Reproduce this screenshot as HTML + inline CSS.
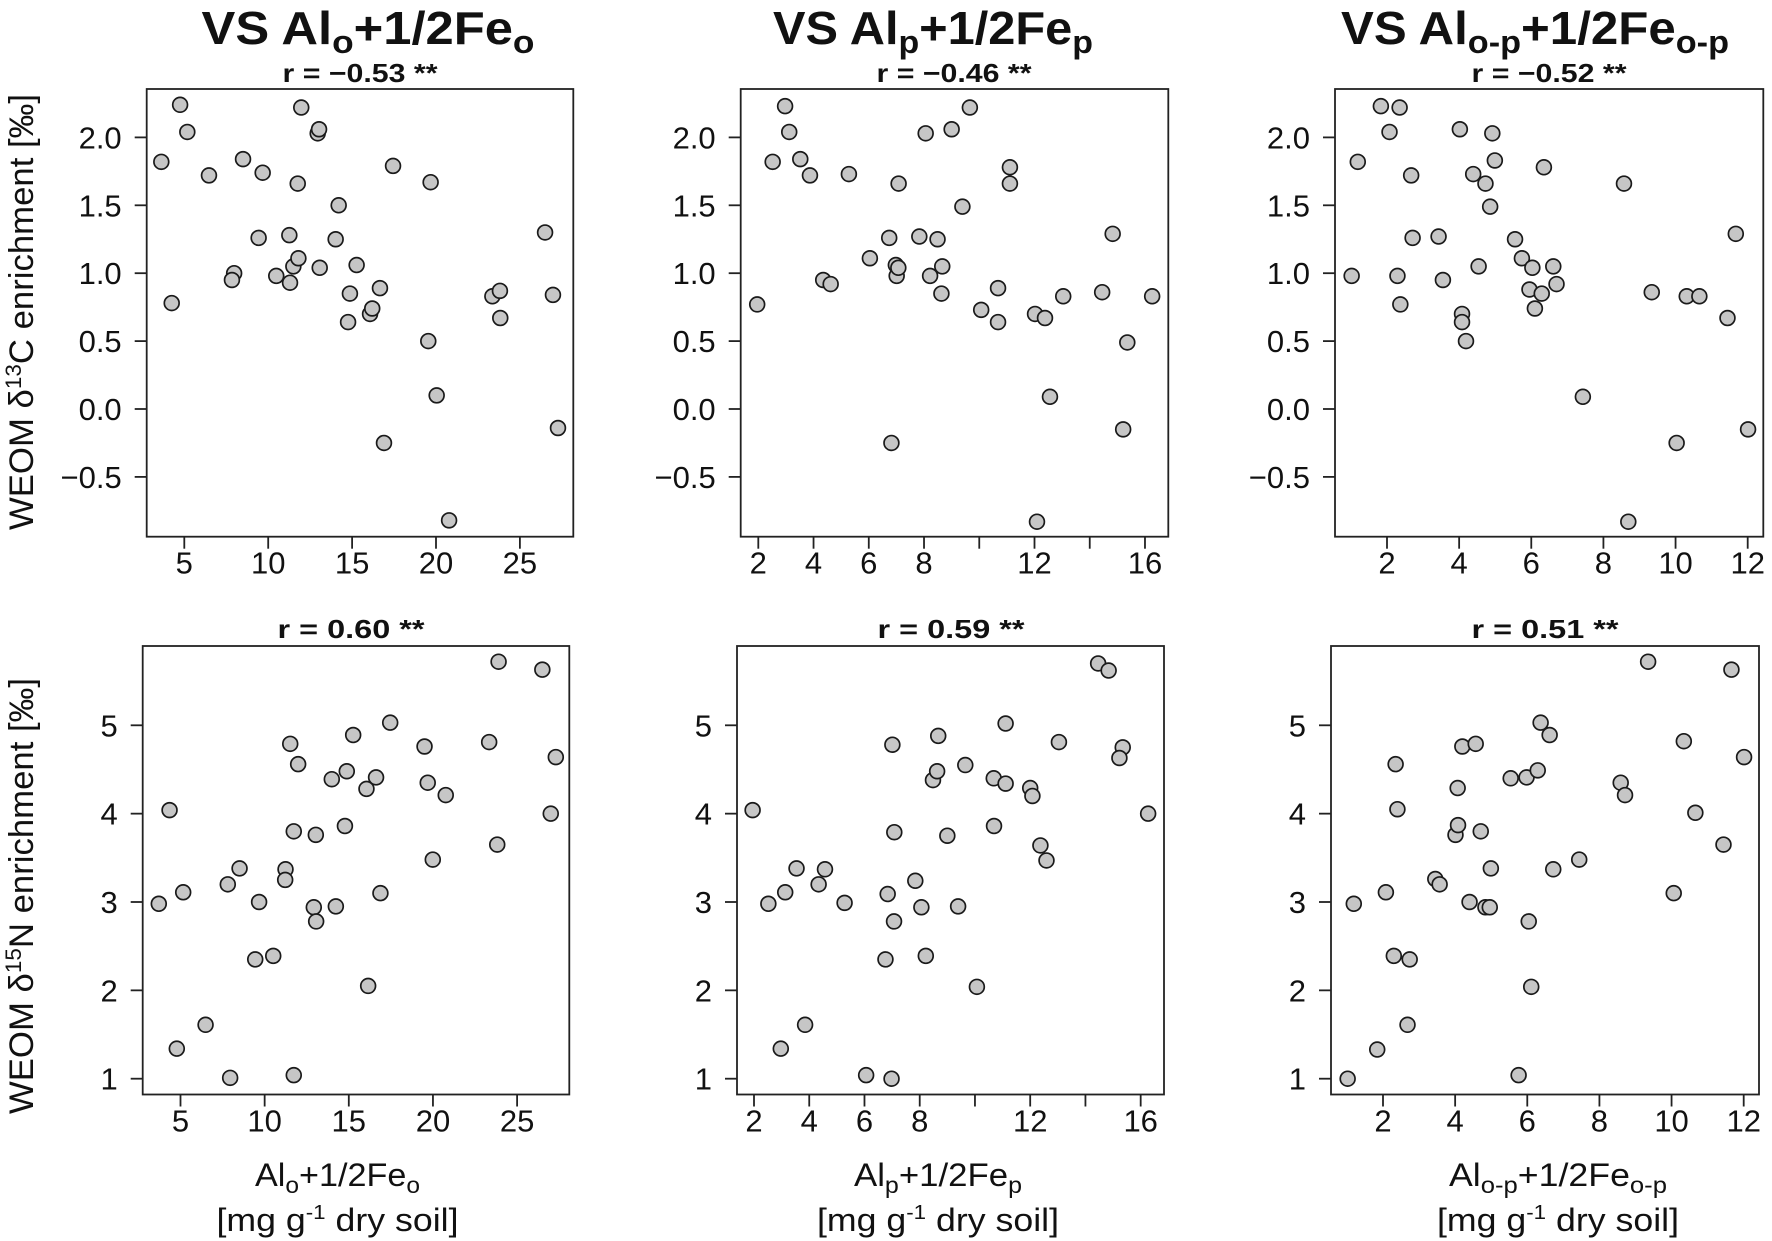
<!DOCTYPE html>
<html><head><meta charset="utf-8"><style>
html,body{margin:0;padding:0;background:#fff}
svg{display:block}
text{font-family:"Liberation Sans",Arial,sans-serif;fill:#111}
</style></head><body>
<svg id="chart" xmlns="http://www.w3.org/2000/svg" width="1772" height="1241" viewBox="0 0 1772 1241"></svg>
<script>
// ---- data ----
const c13_oX = [3.63,4.75,5.18,4.25,6.47,8.5,7.97,7.84,9.67,9.43,10.48,11.26,11.3,11.5,11.8,11.76,11.97,12.95,13.03,13.07,14.2,14.02,14.87,14.76,15.27,16.07,16.2,16.66,16.9,17.44,19.68,19.54,20.04,20.78,23.36,23.81,23.83,26.5,26.97,27.27];
const c13_oY = [1.82,2.24,2.04,0.78,1.72,1.84,1.0,0.95,1.74,1.26,0.98,1.28,0.93,1.05,1.11,1.66,2.22,2.03,2.06,1.04,1.5,1.25,0.85,0.64,1.06,0.70,0.74,0.89,-0.25,1.79,1.67,0.50,0.10,-0.82,0.83,0.87,0.67,1.30,0.84,-0.14];
const c13_pX = [1.96,2.52,2.97,3.12,3.52,3.87,4.35,4.62,5.28,6.04,6.74,6.82,6.98,7.01,7.07,7.08,7.83,8.06,8.22,8.49,8.66,8.63,9.0,9.39,9.66,10.07,10.68,10.68,11.11,11.11,12.02,12.09,12.38,12.56,13.04,14.45,14.83,15.21,15.36,16.26];
const c13_pY = [0.77,1.82,2.23,2.04,1.84,1.72,0.95,0.92,1.73,1.11,1.26,-0.25,1.06,0.98,1.04,1.66,1.27,2.03,0.98,1.25,1.05,0.85,2.06,1.49,2.22,0.73,0.89,0.64,1.78,1.66,0.70,-0.83,0.67,0.09,0.83,0.86,1.29,-0.15,0.49,0.83];
const c13_opX = [1.02,1.19,1.83,2.07,2.35,2.29,2.37,2.67,2.71,3.43,3.55,4.02,4.08,4.08,4.19,4.39,4.54,4.73,4.86,4.92,4.99,5.55,5.74,5.95,6.03,6.10,6.29,6.35,6.61,6.70,7.43,8.57,8.69,9.34,10.31,10.66,11.44,11.67,10.03,12.01];
const c13_opY = [0.98,1.82,2.23,2.04,2.22,0.98,0.77,1.72,1.26,1.27,0.95,2.06,0.70,0.64,0.50,1.73,1.05,1.66,1.49,2.03,1.83,1.25,1.11,0.88,1.04,0.74,0.85,1.78,1.05,0.92,0.09,1.66,-0.83,0.86,0.83,0.83,0.67,1.29,-0.25,-0.15];
const n15_oX = [3.71,4.35,5.16,4.78,6.49,7.81,8.51,7.95,9.67,9.44,10.51,11.24,11.22,11.52,11.73,11.99,11.73,12.92,13.06,13.04,13.99,14.23,14.88,14.77,15.26,16.05,16.15,16.62,16.88,17.46,19.5,19.69,19.99,20.76,23.34,23.82,23.9,26.5,27.3,27.0];
const n15_oY = [2.98,4.04,3.11,1.34,1.61,3.20,3.38,1.01,3.00,2.35,2.39,3.37,3.25,4.79,3.80,4.56,1.04,2.94,2.78,3.76,4.39,2.95,4.48,3.86,4.89,4.28,2.05,4.41,3.10,5.03,4.76,4.35,3.48,4.21,4.81,3.65,5.72,5.63,4.64,4.0];
const n15_pX = [1.95,2.52,2.97,3.13,3.54,3.85,4.34,4.57,5.28,6.06,6.76,6.84,6.98,7.01,7.07,7.08,7.84,8.06,8.22,8.48,8.63,8.67,9.0,9.39,9.65,10.07,10.68,10.69,11.11,11.11,12.0,12.08,12.37,12.59,13.04,14.46,14.84,15.35,15.23,16.27];
const n15_pY = [4.04,2.98,1.34,3.11,3.38,1.61,3.20,3.37,2.99,1.04,2.35,3.09,1.0,4.78,2.78,3.79,3.24,2.94,2.39,4.38,4.48,4.88,3.75,2.95,4.55,2.04,4.40,3.86,5.02,4.34,4.29,4.20,3.64,3.47,4.81,5.70,5.62,4.75,4.63,4.0];
const n15_opX = [1.02,1.19,1.84,2.08,2.35,2.40,2.30,2.74,2.68,3.45,3.57,4.01,4.08,4.07,4.20,4.40,4.57,4.71,4.84,4.96,4.99,5.54,5.76,5.98,6.04,6.11,6.29,6.37,6.62,6.72,7.44,8.59,8.71,9.35,10.06,10.34,10.66,11.44,11.66,12.01];
const n15_opY = [1.0,2.98,1.33,3.11,4.56,4.05,2.39,2.35,1.61,3.26,3.20,3.76,3.87,4.29,4.76,3.0,4.79,3.80,2.94,2.94,3.38,4.40,1.04,4.41,2.78,2.04,4.49,5.03,4.89,3.37,3.48,4.35,4.21,5.72,3.10,4.82,4.01,3.65,5.63,4.64];
const topYTicks = [-0.5,0,0.5,1,1.5,2];
const topYLabels = ["\u22120.5","0.0","0.5","1.0","1.5","2.0"];
const botYTicks = [1,2,3,4,5];
const botYLabels = ["1","2","3","4","5"];
const xTicks1 = [5,10,15,20,25];
const xLabels1 = ["5","10","15","20","25"];
const xTicks2 = [2,4,6,8,10,12,14,16];
const xLabels2 = ["2","4","6","8","","12","","16"];
const xTicks3 = [2,4,6,8,10,12];
const xLabels3 = ["2","4","6","8","10","12"];
const rTop = ["r = \u22120.53 **","r = \u22120.46 **","r = \u22120.52 **"];
const rBot = ["r = 0.60 **","r = 0.59 **","r = 0.51 **"];

// ---- layout ----
const NS="http://www.w3.org/2000/svg";
const svg=document.getElementById('chart');
function mk(tag,attrs,parent){const e=document.createElementNS(NS,tag);for(const k in attrs)e.setAttribute(k,attrs[k]);(parent||svg).appendChild(e);return e;}

const cols=[
 {top:{x0:146.7,x1:573.3,ref:5,px:184.3,s:16.78},bot:{x0:142.7,x1:569.3,ref:5,px:180.5,s:16.83},ticks:xTicks1,labels:xLabels1,rc:[360,351],tc:368,tw:333,sub:"o",xt:337.5,l1:165},
 {top:{x0:740.7,x1:1168.3,ref:2,px:758.3,s:27.62},bot:{x0:737,x1:1164,ref:2,px:754,s:27.62},ticks:xTicks2,labels:xLabels2,rc:[954,951],tc:933,tw:320,sub:"p",xt:938,l1:168},
 {top:{x0:1335,x1:1763.3,ref:2,px:1387,s:36.07},bot:{x0:1331,x1:1759,ref:2,px:1383,s:36.07},ticks:xTicks3,labels:xLabels3,rc:[1549,1545],tc:1535,tw:388,sub:"o-p",xt:1558,l1:218}
];
const rows=[
 {y0:89,y1:536.7,ref:0,py:409,s:135.8,ticks:topYTicks,labels:topYLabels,rb:82},
 {y0:646,y1:1094.5,ref:1,py:1078.7,s:88.35,ticks:botYTicks,labels:botYLabels,rb:638}
];
const data=[[ [c13_oX,c13_oY],[c13_pX,c13_pY],[c13_opX,c13_opY] ],[ [n15_oX,n15_oY],[n15_pX,n15_pY],[n15_opX,n15_opY] ]];

cols.forEach((c,ci)=>{
  const t=mk('text',{x:c.tc,y:44,'text-anchor':'middle','font-size':46,'font-weight':'bold',textLength:c.tw,lengthAdjust:'spacingAndGlyphs'});
  
  
  t.innerHTML='VS Al<tspan font-size="32" dy="9">'+c.sub+'</tspan><tspan dy="-9">+1/2Fe</tspan><tspan font-size="32" dy="9">'+c.sub+'</tspan>';
  rows.forEach((r,ri)=>{
    const X=ri===0?c.top:c.bot;
    const xf=v=>X.px+(v-X.ref)*X.s;
    const yf=v=>r.py-(v-r.ref)*r.s;
    const g=mk('g',{});
    
    
    const rl=mk('text',{x:c.rc[ri],y:r.rb,'text-anchor':'middle','font-size':26,'font-weight':'bold',textLength:ri===0?155:147,lengthAdjust:'spacingAndGlyphs'},g);
    rl.textContent=ri===0?rTop[ci]:rBot[ci];
    
    
    const box=mk('rect',{x:X.x0,y:r.y0,width:X.x1-X.x0,height:r.y1-r.y0,fill:'none',stroke:'#222','stroke-width':1.8},g);
    
    
    r.ticks.forEach((v,i)=>{
      const y=yf(v);
      const tk=mk('line',{x1:X.x0-12,x2:X.x0,y1:y,y2:y,stroke:'#222','stroke-width':1.8},g);
      
      
      const tl=mk('text',{x:X.x0-25,y:y+11,'text-anchor':'end','font-size':31},g);
      tl.textContent=r.labels[i];
      
      
    });
    c.ticks.forEach((v,i)=>{
      const x=xf(v);
      const tk=mk('line',{x1:x,x2:x,y1:r.y1,y2:r.y1+12,stroke:'#222','stroke-width':1.8},g);
      
      
      if(c.labels[i]){
        const tl=mk('text',{x:x,y:r.y1+37,'text-anchor':'middle','font-size':31},g);
        tl.textContent=c.labels[i];
        
        
      }
    });
    const [xs,ys]=data[ri][ci];
    xs.forEach((v,i)=>{
      const p=mk('circle',{cx:xf(v),cy:yf(ys[i]),r:7.4,fill:'#c6c6c6',stroke:'#1a1a1a','stroke-width':1.7},g);
      
      
    });
  });
  const a=mk('text',{x:c.xt,y:1186,'text-anchor':'middle','font-size':32,textLength:c.l1,lengthAdjust:'spacingAndGlyphs'});
  
  
  a.innerHTML='Al<tspan font-size="23" dy="7">'+c.sub+'</tspan><tspan dy="-7">+1/2Fe</tspan><tspan font-size="23" dy="7">'+c.sub+'</tspan>';
  const b=mk('text',{x:c.xt,y:1231,'text-anchor':'middle','font-size':32,textLength:242,lengthAdjust:'spacingAndGlyphs'});
  
  
  b.innerHTML='[mg g<tspan font-size="20" dy="-12">-1</tspan><tspan dy="12"> dry soil]</tspan>';
});
[[312,'13C'],[896,'15N']].forEach(([cy,iso],i)=>{
  const t=mk('text',{x:0,y:0,transform:'translate(33,'+cy+') rotate(-90)','text-anchor':'middle','font-size':34,textLength:436,lengthAdjust:'spacingAndGlyphs'});
  
  
  t.innerHTML='WEOM \u03b4<tspan font-size="22" dy="-12">'+iso.slice(0,2)+'</tspan><tspan dy="12">'+iso.slice(2)+' enrichment [\u2030]</tspan>';
});
</script>
</body></html>
